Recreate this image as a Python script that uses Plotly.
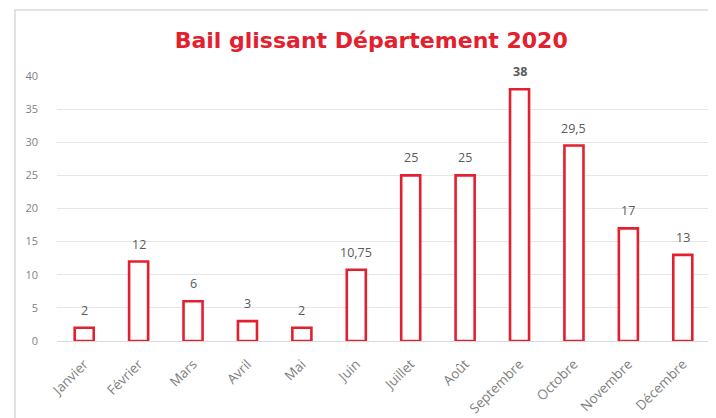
import plotly.graph_objects as go

months = ["Janvier", "Février", "Mars", "Avril", "Mai", "Juin", "Juillet",
          "Août", "Septembre", "Octobre", "Novembre", "Décembre"]
values = [2, 12, 6, 3, 2, 10.75, 25, 25, 38, 29.5, 17, 13]
labels = ["2", "12", "6", "3", "2", "10,75", "25", "25", "<b>38</b>", "29,5", "17", "13"]
y_ticks = [0, 5, 10, 15, 20, 25, 30, 35, 40]

RED = "#e3202e"
GREY = "#595959"

fig = go.Figure(go.Bar(
    x=months, y=values,
    marker=dict(color="white", line=dict(color=RED, width=2.6)),
    width=0.35, cliponaxis=False,
))

for m, v, t in zip(months, values, labels):
    fig.add_annotation(x=m, y=v, text=t, showarrow=False, yanchor="bottom",
                       yshift=7, font=dict(color=GREY, size=12.5, family="Open Sans"))

# page body has an 8px offset; figure sized to fill the remaining window
fig.update_layout(
    width=708, height=410,
    margin=dict(l=49, r=6, t=68, b=77),
    paper_bgcolor="white", plot_bgcolor="white",
    showlegend=False,
    title=dict(text="<b>Bail glissant Département 2020</b>", x=0.513, xanchor="center",
               y=0.922, yanchor="middle",
               font=dict(family="DejaVu Sans", size=22, color=RED)),
    xaxis=dict(tickangle=-45, tickfont=dict(color="#7f7f7f", size=13.5, family="Open Sans"),
               showgrid=False, showline=True, linecolor="#d9d9d9", linewidth=1,
               ticks="", ticklabelstandoff=9, automargin=False),
    yaxis=dict(range=[0, 40], tickvals=y_ticks,
               tickfont=dict(color="#7f7f7f", size=11, family="Open Sans"),
               showgrid=True, gridcolor="#e6e6e6", gridwidth=1, zeroline=False,
               ticks="", ticklabelstandoff=18, automargin=False),
    shapes=[dict(type="rect", xref="paper", yref="paper",
                 x0=-42 / 653, x1=1.02, y0=-90 / 265, y1=1 + 66 / 265,
                 line=dict(color="#d9d9d9", width=1.5), layer="below")],
)

fig.write_html("out.html")
